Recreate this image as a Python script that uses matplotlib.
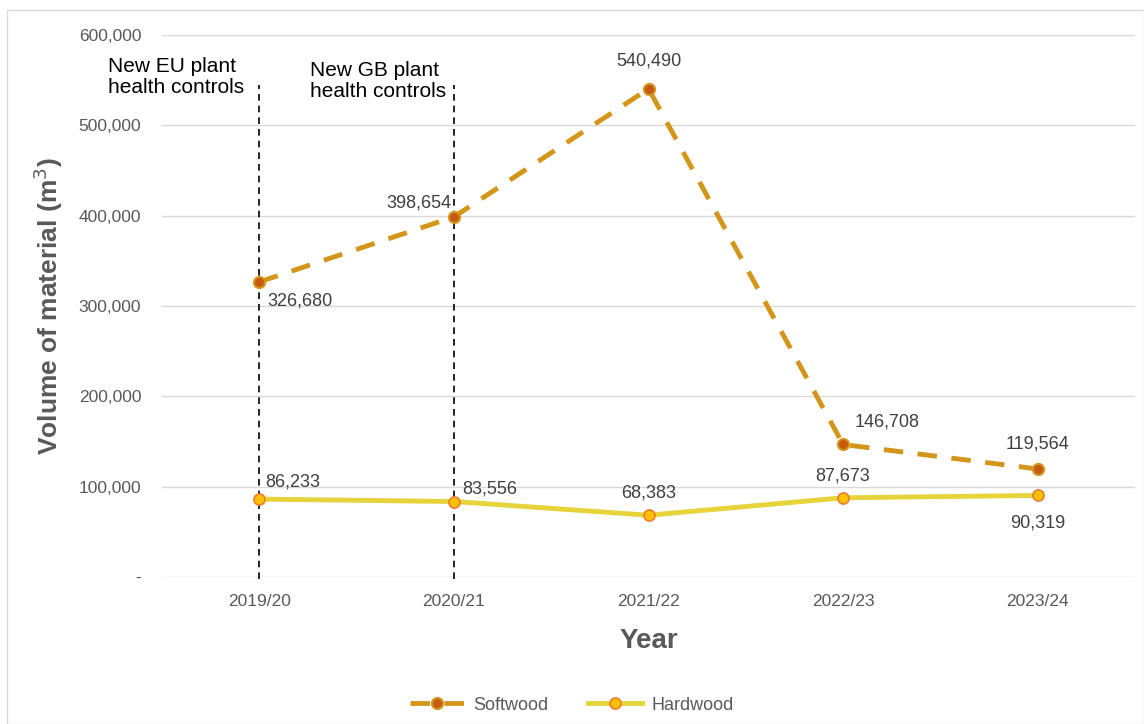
import matplotlib.pyplot as plt
from matplotlib.patches import Rectangle
from matplotlib.ticker import FuncFormatter

plt.rcParams['font.family'] = ['Liberation Sans', 'DejaVu Sans']

# data
years = ['2019/20', '2020/21', '2021/22', '2022/23', '2023/24']
softwood = [326680, 398654, 540490, 146708, 119564]
hardwood = [86233, 83556, 68383, 87673, 90319]
# label offsets in points (dx, dy) and alignment
soft_off = [(6, -14, 'left'), (-2, 10, 'right'), (0, 20, 'center'), (8, 16, 'left'), (0, 18, 'center')]
hard_off = [(4, 12, 'left'), (6, 9, 'left'), (0, 16, 'center'), (0, 16, 'center'), (0, -20, 'center')]

fig = plt.figure(figsize=(11.44, 7.24), dpi=100)
fig.patches.append(Rectangle((7 / 1144, 0), 1 - 7 / 1144, 1 - 10 / 724, transform=fig.transFigure,
                             fill=False, edgecolor='#D9D9D9', lw=1))
ax = fig.add_axes([162 / 1144, 1 - 577 / 724, (1135 - 162) / 1144, (577 - 35) / 724])

x = list(range(len(years)))
ax.plot(x, softwood, color='#D4961A', lw=3.5, ls=(0, (4, 3)), marker='o', ms=8,
        mfc='#C55A11', mec='#D4961A', mew=1.5, label='Softwood', zorder=3)
ax.plot(x, hardwood, color='#E6D43A', lw=3.5, marker='o', ms=8,
        mfc='#FFC000', mec='#ED7D31', mew=1.2, label='Hardwood', zorder=3)

for i, v in enumerate(softwood):
    dx, dy, ha = soft_off[i]
    ax.annotate(f'{v:,}', (i, v), xytext=(dx, dy), textcoords='offset points',
                ha=ha, va='center', fontsize=13, color='#404040')
for i, v in enumerate(hardwood):
    dx, dy, ha = hard_off[i]
    ax.annotate(f'{v:,}', (i, v), xytext=(dx, dy), textcoords='offset points',
                ha=ha, va='center', fontsize=13, color='#404040')

# policy change markers
for xi, dx, ty, txt in [(0, -0.78, 576000, 'New EU plant\nhealth controls'),
                        (1, -0.74, 571500, 'New GB plant\nhealth controls')]:
    ax.plot([xi, xi], [-2000, 545000], color='black', lw=1.2, ls=(0, (4, 3)), zorder=2, clip_on=False)
    ax.text(xi + dx, ty, txt, fontsize=15, color='black', ha='left', va='top', linespacing=1.15)

ax.set_xlim(-0.5, len(years) - 0.5)
ax.set_ylim(0, 600000)
ax.set_yticks(range(0, 600001, 100000))
ax.yaxis.set_major_formatter(FuncFormatter(lambda v, p: '-' if v == 0 else f'{int(v):,}'))
ax.set_xticks(x)
ax.set_xticklabels(years)
ax.tick_params(axis='both', length=0, labelsize=12.5, labelcolor='#595959')
ax.tick_params(axis='y', pad=15)
ax.tick_params(axis='x', pad=12)
ax.grid(axis='y', color='#D9D9D9', lw=1)
ax.set_axisbelow(True)
for s in ax.spines.values():
    s.set_visible(False)

ax.set_xlabel('Year', fontsize=20, fontweight='bold', color='#595959', labelpad=14)
ax.set_ylabel('Volume of material (m$^3$)', fontsize=19, fontweight='bold', color='#595959', labelpad=10)

fig.legend(loc='lower center', bbox_to_anchor=(0.5, -0.008), ncol=2, frameon=False,
           fontsize=13, labelcolor='#595959', handlelength=3.0, handletextpad=0.5, columnspacing=2.2)

plt.savefig('out.png', dpi=100)
